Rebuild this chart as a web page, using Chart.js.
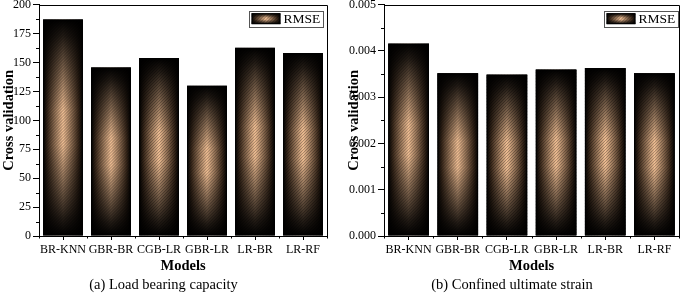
<!DOCTYPE html>
<html>
<head>
<meta charset="utf-8">
<script src="https://cdn.jsdelivr.net/npm/chart.js@4/dist/chart.umd.min.js"></script>
<style>
html, body { margin: 0; padding: 0; background: #fff; }
#wrap { position: relative; width: 685px; height: 294px; }
.box { position: absolute; top: 0; height: 294px; }
</style>
</head>
<body>
<div id="wrap">
  <div class="box" style="left:0;width:345px"><canvas id="chartA"></canvas></div>
  <div class="box" style="left:345px;width:340px"><canvas id="chartB"></canvas></div>
</div>
<script>
// data
const models = ['BR-KNN', 'GBR-BR', 'CGB-LR', 'GBR-LR', 'LR-BR', 'LR-RF'];
const loadRmse = [187.3, 145.8, 153.9, 130.0, 162.8, 158.2];
const strainRmse = [0.00416, 0.00352, 0.00349, 0.00360, 0.00363, 0.00352];
const loadTicks = [0, 25, 50, 75, 100, 125, 150, 175, 200];
const strainTicks = [0, 0.001, 0.002, 0.003, 0.004, 0.005];

const serif = "'Liberation Serif', 'Times New Roman', serif";
Chart.defaults.font.family = serif;
Chart.defaults.color = '#000';

function paintBar(ctx, l, t, w, h) {
  ctx.save();
  ctx.beginPath();
  ctx.rect(l, t, w, h);
  ctx.clip();
  const hg = ctx.createLinearGradient(l, 0, l + w, 0);
  hg.addColorStop(0, '#000');
  hg.addColorStop(0.12, '#3c2a1c');
  hg.addColorStop(0.5, '#f2c095');
  hg.addColorStop(0.88, '#3c2a1c');
  hg.addColorStop(1, '#000');
  ctx.fillStyle = hg;
  ctx.fillRect(l, t, w, h);
  const vg = ctx.createLinearGradient(0, t, 0, t + h);
  vg.addColorStop(0, 'rgba(0,0,0,1)');
  vg.addColorStop(0.08, 'rgba(0,0,0,0.85)');
  vg.addColorStop(0.42, 'rgba(0,0,0,0)');
  vg.addColorStop(0.58, 'rgba(0,0,0,0)');
  vg.addColorStop(0.92, 'rgba(0,0,0,0.85)');
  vg.addColorStop(1, 'rgba(0,0,0,1)');
  ctx.fillStyle = vg;
  ctx.fillRect(l, t, w, h);
  // diagonal hatch
  ctx.strokeStyle = 'rgba(0,0,0,0.3)';
  ctx.lineWidth = 1;
  ctx.beginPath();
  for (let k = -h; k < w + h; k += 3) {
    ctx.moveTo(l + k, t + h);
    ctx.lineTo(l + k + h, t);
  }
  ctx.stroke();
  ctx.restore();
  ctx.strokeStyle = '#000';
  ctx.lineWidth = 1;
  ctx.strokeRect(l + 0.5, t + 0.5, w - 1, h - 1);
}

const decorPlugin = {
  id: 'decor',
  afterDatasetsDraw(chart) {
    const ctx = chart.ctx;
    chart.getDatasetMeta(0).data.forEach(bar => {
      const p = bar.getProps(['x', 'y', 'base', 'width'], true);
      paintBar(ctx, p.x - p.width / 2, p.y, p.width, p.base - p.y);
    });
  },
  afterDraw(chart, args, opts) {
    const ctx = chart.ctx;
    const a = chart.chartArea;
    const ys = chart.scales.y, xs = chart.scales.x;
    ctx.save();
    ctx.strokeStyle = '#000';
    ctx.lineWidth = 1;
    // top and right frame
    ctx.beginPath();
    ctx.moveTo(Math.round(a.left) + 0.5, Math.round(a.top) + 0.5);
    ctx.lineTo(Math.round(a.right) + 0.5, Math.round(a.top) + 0.5);
    ctx.lineTo(Math.round(a.right) + 0.5, Math.round(a.bottom) + 0.5);
    ctx.stroke();
    // minor ticks
    ctx.beginPath();
    const ticks = opts.ticks;
    for (let i = 0; i < ticks.length - 1; i++) {
      const yy = Math.round(ys.getPixelForValue((ticks[i] + ticks[i + 1]) / 2)) + 0.5;
      ctx.moveTo(a.left - 3, yy);
      ctx.lineTo(a.left, yy);
    }
    for (let i = 0; i <= models.length; i++) {
      const xx = Math.round(xs.getPixelForValue(i - 0.5)) + 0.5;
      ctx.moveTo(xx, a.bottom);
      ctx.lineTo(xx, a.bottom + 2.5);
    }
    ctx.stroke();
    // legend
    const bw = 74, bh = 16;
    const bl = a.right - opts.legendRight - bw, bt = a.top + 6;
    ctx.fillStyle = '#fff';
    ctx.fillRect(bl, bt, bw, bh);
    ctx.strokeStyle = '#555';
    ctx.strokeRect(Math.round(bl) + 0.5, Math.round(bt) + 0.5, bw, bh);
    paintBar(ctx, bl + 3, bt + 2.5, 29, 11);
    ctx.fillStyle = '#000';
    ctx.font = '13.5px ' + serif;
    ctx.textBaseline = 'middle';
    ctx.textAlign = 'left';
    ctx.fillText('RMSE', bl + 35, bt + bh / 2 + 1);
    ctx.restore();
  }
};

function makeChart(id, values, tickVals, caption, fmt, padRight, legendRight) {
  return new Chart(document.getElementById(id), {
    type: 'bar',
    data: {
      labels: models,
      datasets: [{
        label: 'RMSE',
        data: values,
        backgroundColor: 'rgba(0,0,0,0)',
        borderWidth: 0,
        barPercentage: 0.83,
        categoryPercentage: 1
      }]
    },
    options: {
      responsive: true,
      maintainAspectRatio: false,
      animation: false,
      layout: { padding: { left: 0, right: padRight, top: 4.7, bottom: 0 } },
      plugins: {
        legend: { display: false },
        tooltip: { enabled: false },
        title: {
          display: true,
          position: 'bottom',
          text: caption,
          font: { size: 14.5, weight: 'normal', family: serif },
          padding: 0
        },
        decor: { ticks: tickVals, legendRight: legendRight }
      },
      scales: {
        x: {
          grid: { display: true, drawOnChartArea: false, offset: false, tickLength: 4, color: '#000' },
          border: { color: '#000', width: 1 },
          ticks: { font: { size: 12 }, padding: 3, maxRotation: 0, autoSkip: false },
          title: { display: true, text: 'Models', font: { size: 14.5, weight: 'bold' }, padding: { top: 0, bottom: 1.5 } },
          afterFit(s) { s.height = 40.6; s.paddingLeft = 0; s.paddingRight = 0; }
        },
        y: {
          min: tickVals[0],
          max: tickVals[tickVals.length - 1],
          afterBuildTicks(s) { s.ticks = tickVals.map(v => ({ value: v })); },
          grid: { display: true, drawOnChartArea: false, tickLength: 6, color: '#000' },
          border: { color: '#000', width: 1 },
          ticks: { font: { size: 12 }, padding: 2, callback: fmt },
          title: { display: true, text: 'Cross validation', font: { size: 14.5, weight: 'bold' }, padding: { top: 1, bottom: 0 } },
          afterFit(s) { s.width = 39; s.paddingTop = 0; s.paddingBottom = 0; }
        }
      }
    },
    plugins: [decorPlugin]
  });
}

makeChart('chartA', loadRmse, loadTicks, '(a) Load bearing capacity', v => String(v), 18, 4.5);
makeChart('chartB', strainRmse, strainTicks, '(b) Confined ultimate strain', v => Number(v).toFixed(3), 6, 1.5);
</script>
</body>
</html>
